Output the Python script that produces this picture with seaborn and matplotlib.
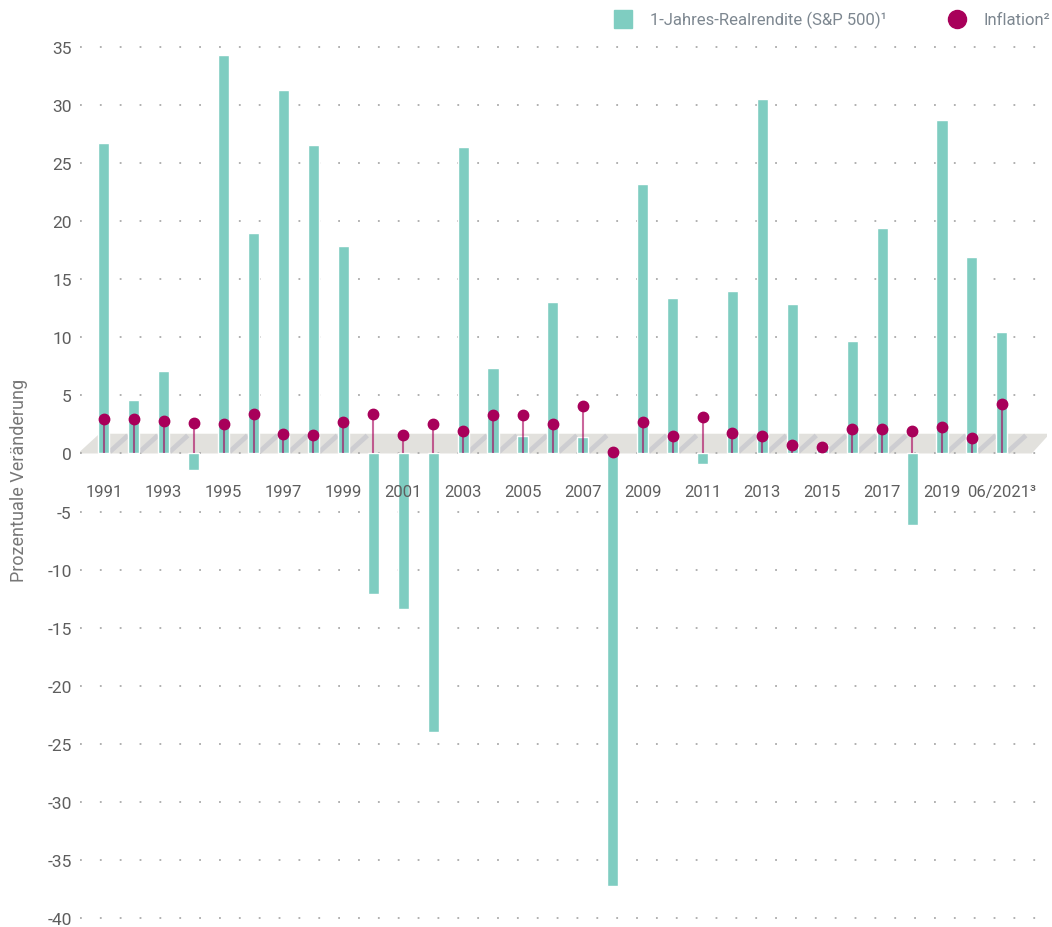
import numpy as np
import pandas as pd
import matplotlib
matplotlib.use("Agg")
import matplotlib.pyplot as plt
import seaborn as sns
from matplotlib.lines import Line2D
from matplotlib.patches import Polygon

# Daten
jahre = [str(j) for j in range(1991, 2021)] + ["06/2021"]
realrendite = [26.7, 4.6, 7.1, -1.4, 34.3, 19.0, 31.3, 26.6, 17.9, -12.1,
               -13.4, -24.0, 26.4, 7.4, 1.5, 13.0, 1.4, -37.2, 23.2, 13.4,
               -0.9, 14.0, 30.5, 12.9, 0.7, 9.7, 19.4, -6.2, 28.7, 16.9, 10.5]
inflation = [3.0, 3.0, 2.8, 2.6, 2.5, 3.4, 1.7, 1.6, 2.7, 3.4,
             1.6, 2.5, 1.9, 3.3, 3.3, 2.5, 4.1, 0.1, 2.7, 1.5,
             3.1, 1.8, 1.5, 0.7, 0.6, 2.1, 2.1, 1.9, 2.3, 1.3, 4.3]
tick_labels = [j if i % 2 == 0 else "" for i, j in enumerate(jahre)]
tick_labels[-1] = "06/2021³"

df = pd.DataFrame({"jahr": jahre, "rendite": realrendite, "inflation": inflation})
df["pos"] = np.arange(len(df))

sns.set_style("white")
plt.rcParams["font.family"] = ["Roboto", "DejaVu Sans"]
plt.rcParams["axes.unicode_minus"] = False

teal = "#7FCDC1"
beere = "#A8005A"
grau = "#5E5E5E"

fig = plt.figure(figsize=(10.52, 9.28), dpi=100)
ax = fig.add_axes([0.076, 0.0034, 0.919, 0.9574])

# "Boden" des 3D-Diagramms
boden = Polygon([(-0.87, 0), (31.0, 0), (31.6, 1.7), (-0.15, 1.7)],
                closed=True, facecolor="#E2E1DD", edgecolor="none", zorder=0.5)
ax.add_patch(boden)
for p, v in zip(df["pos"], df["rendite"]):
    if v > 0:
        ax.plot([p + 0.2, p + 0.8], [0.15, 1.55], color="#CDCDD1", lw=3.5,
                solid_capstyle="butt", zorder=0.6)

sns.barplot(data=df, x="jahr", y="rendite", color=teal, width=0.37,
            saturation=1, ax=ax, zorder=1)

ax.vlines(df["pos"], 0, df["inflation"], color=beere, alpha=0.6, lw=1.5, zorder=2)
ax.plot(df["pos"], df["inflation"], "o", color=beere, ms=7.5, zorder=3)

ax.set_xlim(-0.8, 31.5)
ax.set_ylim(-40.5, 36)
ax.set_yticks(np.arange(-40, 36, 5))
ax.grid(axis="y", color="#AAAAAA", linestyle=(0, (1, 10)), lw=1.3)
ax.set_axisbelow(True)
ax.xaxis.set_zorder(5)

ax.set_xticks(df["pos"])
ax.set_xticklabels(tick_labels)
ax.spines["bottom"].set_position(("data", 0))
for s in ax.spines.values():
    s.set_visible(False)
ax.tick_params(axis="x", length=0, pad=22, labelsize=12, labelcolor=grau)
ax.tick_params(axis="y", length=0, pad=6, labelsize=12.5, labelcolor=grau)
ax.set_xlabel("")
ax.set_ylabel("Prozentuale Veränderung", fontsize=13, color="#777777")
ax.yaxis.set_label_coords(-0.054, 0.5)

handles = [
    Line2D([], [], marker="s", ls="none", color=teal, ms=13),
    Line2D([], [], marker="o", ls="none", color=beere, ms=13),
]
fig.legend(handles, ["1-Jahres-Realrendite (S&P 500)¹", "Inflation²"],
           loc="upper right", bbox_to_anchor=(1.006, 0.996), ncol=2, frameon=False,
           fontsize=12, labelcolor="#7D8790", handletextpad=0.6, columnspacing=3.2,
           borderaxespad=0.1)

fig.savefig("out.png", dpi=100)
